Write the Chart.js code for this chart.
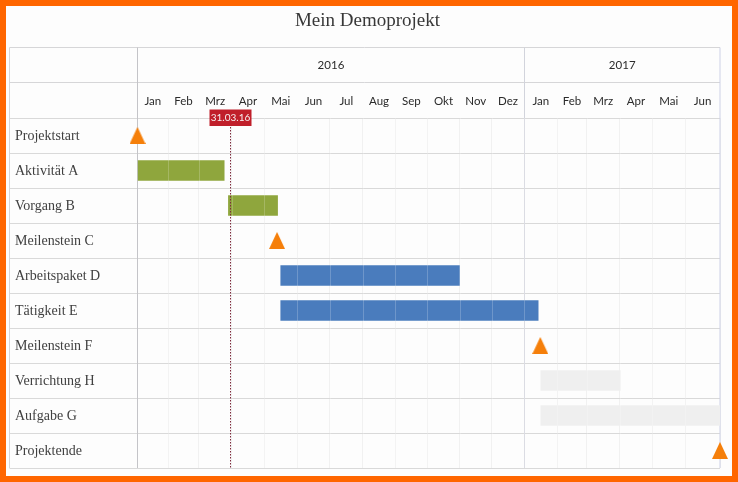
<!DOCTYPE html>
<html lang="de">
<head>
<meta charset="utf-8">
<title>Mein Demoprojekt</title>
<script src="https://cdn.jsdelivr.net/npm/chart.js@4"></script>
<style>
html,body{margin:0;padding:0;background:#fdfdfd;overflow:hidden}
#c{position:absolute;left:0;top:0;display:block}
#frame{position:fixed;left:0;top:0;width:738px;height:482px;box-sizing:border-box;border:6px solid #ff6600;pointer-events:none}
</style>
</head>
<body>
<canvas id="c" width="738" height="482"></canvas>
<div id="frame"></div>
<script>
const titleText = 'Mein Demoprojekt';
const rows = ['Projektstart','Aktivität A','Vorgang B','Meilenstein C','Arbeitspaket D','Tätigkeit E','Meilenstein F','Verrichtung H','Aufgabe G','Projektende'];
const monthNames = ['Jan','Feb','Mrz','Apr','Mai','Jun','Jul','Aug','Sep','Okt','Nov','Dez','Jan','Feb','Mrz','Apr','Mai','Jun'];
const monthStarts = [0,29,58,89,120,151,182,213,244,274,305,335,366,397,425,456,487,518,551];
const yearNames = ['2016','2017'];
const yearStarts = [0,366,551];
const greenBars = [null,[0,82],[86,132.5],null,null,null,null,null,null,null];
const blueBars = [null,null,null,null,[135.5,304.5],[135.5,379],null,null,null,null];
const greyBars = [null,null,null,null,null,null,null,[381.5,456.8],[381.5,551],null];
const milestones = [{x:0,y:'Projektstart'},{x:132,y:'Meilenstein C'},{x:381,y:'Meilenstein F'},{x:551,y:'Projektende'}];
const todayValue = 87.5;
const todayLabel = '31.03.16';

const mids = a => a.slice(0,-1).map((v,i)=>(v+a[i+1])/2);
const tri = document.createElement('canvas');
tri.width = 16; tri.height = 17;
(function(){const g=tri.getContext('2d');g.fillStyle='#f57f0a';g.beginPath();g.moveTo(8,0);g.lineTo(16,17);g.lineTo(0,17);g.closePath();g.fill();})();

const framePlugin = {
  id:'framePlugin',
  beforeDraw(chart){
    chart.scales.y.getLabelItems().forEach(it=>{
      const t = it.options && it.options.translation;
      if (t && !it.nudged) { t[1] += 1; it.nudged = true; }
    });
  },
  beforeDatasetsDraw(chart){
    const {ctx,scales:{x,y}} = chart;
    const L = 9.5, T = 47.5, M = 82.5, B = y.bottom;
    const A = x.left, J = Math.round(x.getPixelForValue(yearStarts[1]))+0.5, R = x.right;
    ctx.save();
    ctx.lineWidth = 1;
    ctx.strokeStyle = '#d6d6d8';
    [T,M].forEach(v=>{ctx.beginPath();ctx.moveTo(L,v);ctx.lineTo(R,v);ctx.stroke();});
    ctx.beginPath();ctx.moveTo(L,T);ctx.lineTo(L,B);ctx.stroke();
    ctx.strokeStyle = '#c4c4c8';
    ctx.beginPath();ctx.moveTo(A,T);ctx.lineTo(A,B);ctx.stroke();
    ctx.strokeStyle = '#d2d4dc';
    ctx.beginPath();ctx.moveTo(J,T);ctx.lineTo(J,B);ctx.stroke();
    ctx.strokeStyle = '#cdd1e6';
    ctx.beginPath();ctx.moveTo(R,T);ctx.lineTo(R,B);ctx.stroke();
    ctx.restore();
  },
  beforeDatasetDraw(chart,args){
    if (chart.data.datasets[args.index].type !== 'scatter') return;
    const {ctx,scales:{x,y}} = chart;
    ctx.save();
    ctx.strokeStyle = 'rgba(255,255,255,0.2)';
    ctx.lineWidth = 1;
    monthStarts.slice(1,-1).forEach(v=>{
      const p = Math.round(x.getPixelForValue(v))+0.5;
      ctx.beginPath();ctx.moveTo(p,y.top);ctx.lineTo(p,y.bottom);ctx.stroke();
    });
    ctx.restore();
  },
  afterDatasetsDraw(chart){
    const {ctx,scales:{x,y}} = chart;
    const px = Math.round(x.getPixelForValue(todayValue))+0.5;
    ctx.save();
    ctx.strokeStyle = '#7d2a3c';
    ctx.lineWidth = 1;
    ctx.setLineDash([1.5,1.5]);
    ctx.beginPath();ctx.moveTo(px,y.top+6);ctx.lineTo(px,y.bottom);ctx.stroke();
    ctx.setLineDash([]);
    ctx.fillStyle = '#c01f2a';
    ctx.fillRect(px-21,y.top-8.5,42,16.5);
    ctx.fillStyle = '#f6f0f0';
    ctx.font = '10px Lato, "Open Sans", sans-serif';
    ctx.textAlign = 'center';
    ctx.textBaseline = 'middle';
    ctx.fillText(todayLabel,px,y.top);
    ctx.restore();
  }
};

const headerAxis = (values,names,h,weight,pad) => ({
  type:'linear',position:'top',min:0,max:551,weight,
  afterBuildTicks(s){s.ticks = values.map(v=>({value:v}));},
  afterFit(s){s.height = h;},
  border:{display:false},
  grid:{display:false,drawOnChartArea:false,drawTicks:false},
  ticks:{autoSkip:false,maxRotation:0,minRotation:0,padding:pad,color:'#2b2b2b',
    font:{family:'Lato, "Open Sans", sans-serif',size:11.5},
    callback(v,i){return names[i];}}
});

new Chart(document.getElementById('c'),{
  data:{
    labels:rows,
    datasets:[
      {type:'scatter',label:'Meilensteine',data:milestones,pointStyle:tri,pointRadius:9,clip:false,xAxisID:'x',yAxisID:'y'},
      {type:'bar',indexAxis:'y',label:'Grün',data:greenBars,backgroundColor:'#8fa63d',barThickness:20,grouped:false,xAxisID:'x',yAxisID:'y'},
      {type:'bar',indexAxis:'y',label:'Blau',data:blueBars,backgroundColor:'#4a7cbd',barThickness:20,grouped:false,xAxisID:'x',yAxisID:'y'},
      {type:'bar',indexAxis:'y',label:'Grau',data:greyBars,backgroundColor:'#efefef',barThickness:20,grouped:false,xAxisID:'x',yAxisID:'y'}
    ]
  },
  options:{
    responsive:false,animation:false,
    layout:{padding:{left:15,right:18,top:0,bottom:14}},
    plugins:{
      legend:{display:false},tooltip:{enabled:false},
      title:{display:true,text:titleText,color:'#383838',align:'center',
        font:{family:'"Liberation Serif", serif',size:19,weight:'normal'},
        padding:{top:10,bottom:14.2}}
    },
    scales:{
      x:{type:'linear',position:'bottom',min:0,max:551,
        afterBuildTicks(s){s.ticks = monthStarts.map(v=>({value:v}));},
        afterFit(s){s.height = 0;},
        border:{display:false},
        grid:{color:'#f1f1f1',z:-1,drawTicks:false},
        ticks:{display:false}},
      xMonths:headerAxis(mids(monthStarts),monthNames,36,1,10),
      xYears:headerAxis(mids(yearStarts),yearNames,35,2,10),
      y:{type:'category',position:'left',labels:rows,offset:true,
        afterFit(s){s.width = 122.5;},
        border:{display:false},
        grid:{color:'#d9d9d9',offset:true,tickLength:128,tickColor:'#d9d9d9'},
        ticks:{crossAlign:'far',autoSkip:false,padding:0,color:'#404040',
          font:{family:'"Liberation Serif", serif',size:14}}}
    }
  },
  plugins:[framePlugin]
});
</script>
</body>
</html>
